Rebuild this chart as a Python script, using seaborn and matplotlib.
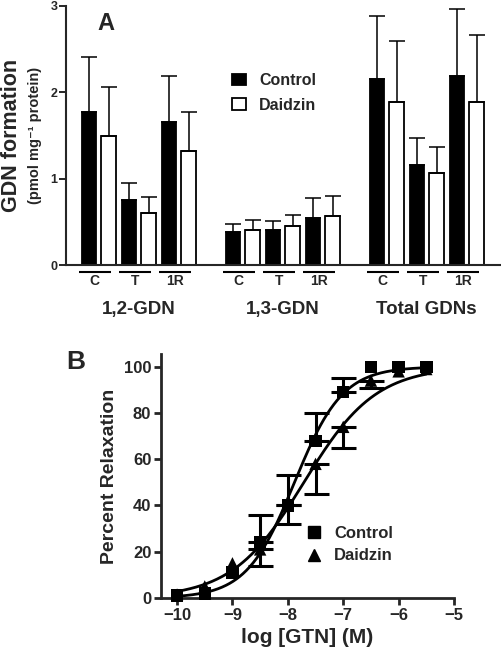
import numpy as np
import pandas as pd
import matplotlib
matplotlib.use("Agg")
import matplotlib.pyplot as plt
from matplotlib.patches import Patch
from matplotlib.lines import Line2D
import seaborn as sns

# ---- panel A data: GDN formation (pmol mg-1 protein), mean and SEM ----
groups = ["1,2-GDN", "1,3-GDN", "Total GDNs"]
tissues = ["C", "T", "1R"]
control_mean = [1.77, 0.75, 1.66, 0.38, 0.41, 0.54, 2.15, 1.16, 2.19]
control_sem = [0.64, 0.20, 0.53, 0.09, 0.10, 0.24, 0.73, 0.31, 0.77]
daidzin_mean = [1.49, 0.60, 1.32, 0.40, 0.45, 0.57, 1.89, 1.06, 1.89]
daidzin_sem = [0.57, 0.19, 0.45, 0.12, 0.13, 0.23, 0.71, 0.31, 0.77]

# ---- panel B data: percent relaxation vs log [GTN] ----
log_gtn = [-10, -9.5, -9, -8.5, -8, -7.5, -7, -6.5, -6, -5.5]
control_relax = [1, 2, 11, 24, 40, 68, 89, 100, 100, 100]
control_err_up = [0, 0, 0, 12, 13, 12, 6, 0, 0, 0]
daidzin_relax = [1.5, 5, 15, 21, 40, 58, 74, 94, 98, 99]
daidzin_err_down = [0, 0, 0, 7, 8, 13, 9, 3, 0, 0]
# fitted sigmoid parameters (logEC50, Hill slope)
control_fit = (-7.88, 1.0)
daidzin_fit = (-7.71, 0.67)

W, H = 502, 655
sns.set_theme(style="ticks")
plt.rcParams["font.family"] = ["Liberation Sans", "DejaVu Sans"]
plt.rcParams["font.weight"] = "bold"

fig = plt.figure(figsize=(W / 100, H / 100), dpi=100)


def fx(px):
    return px / W


def fy(py):
    return 1 - py / H


# ================= Panel A =================
axA = fig.add_axes([fx(66), fy(265), fx(500 - 66), (265 - 6) / H])
group_pitch = 3.6
pair_pos = [g * group_pitch + t for g in range(len(groups)) for t in range(len(tissues))]

df_a = pd.DataFrame({
    "pos": pair_pos * 2,
    "treatment": ["Control"] * 9 + ["Daidzin"] * 9,
    "value": control_mean + daidzin_mean,
})
bar_width = 0.98
sns.barplot(data=df_a, x="pos", y="value", hue="treatment", native_scale=True,
            palette={"Control": "black", "Daidzin": "white"}, saturation=1,
            width=bar_width, gap=0.27, errorbar=None, edgecolor="black",
            linewidth=1.3, legend=False, ax=axA)

off = bar_width / 4
for means, sems, sign in [(control_mean, control_sem, -1), (daidzin_mean, daidzin_sem, 1)]:
    xs = [p + sign * off for p in pair_pos]
    axA.errorbar(xs, means, yerr=[np.zeros(len(sems)), sems], fmt="none",
                 ecolor="black", elinewidth=1.1, capsize=5.5, capthick=1.1, zorder=1)

axA.set_xlim(-0.82, pair_pos[-1] + 0.83)
axA.set_ylim(0, 3)
axA.set_yticks([0, 1, 2, 3])
axA.set_xticks([])
axA.set_xlabel("")
axA.set_ylabel("")
axA.tick_params(axis="y", length=5, width=1.4, labelsize=9, pad=1)
for lab in axA.get_yticklabels():
    lab.set_fontweight("bold")
sns.despine(ax=axA)
for s in ["left", "bottom"]:
    axA.spines[s].set_linewidth(1.5)

# underlines and tissue labels
for i, p in enumerate(pair_pos):
    c = p - 0.1
    axA.plot([c - 0.4, c + 0.4], [-0.078, -0.078], color="black", lw=1.5,
             clip_on=False, solid_capstyle="butt")
    axA.text(c, -0.19, tissues[i % 3], ha="center", va="center",
             fontsize=10, fontweight="bold", clip_on=False)
for g, name in enumerate(groups):
    axA.text(g * group_pitch + 1, -0.51, name, ha="center", va="center",
             fontsize=13.5, fontweight="bold", clip_on=False)

fig.text(fx(12), fy(135), "GDN formation", rotation=90, ha="center", va="center",
         fontsize=15.5, fontweight="bold")
fig.text(fx(35), fy(135), "(pmol mg\u207b\u00b9 protein)", rotation=90, ha="center",
         va="center", fontsize=10.5, fontweight="bold")
fig.text(fx(106), fy(24), "A", ha="center", va="center", fontsize=17, fontweight="bold")

handles_a = [Patch(facecolor="black", edgecolor="black", lw=1.3, label="Control"),
             Patch(facecolor="white", edgecolor="black", lw=1.3, label="Daidzin")]
fig.legend(handles=handles_a, loc="upper left", bbox_to_anchor=(fx(232), fy(73)),
           frameon=False, handlelength=0.9, handleheight=0.75,
           handletextpad=0.8, labelspacing=0.6, borderpad=0, borderaxespad=0,
           prop={"weight": "bold", "size": 11.5})

# ================= Panel B =================
axB = fig.add_axes([fx(161), fy(598), fx(454 - 161), (598 - 354) / H])

xfit = np.linspace(log_gtn[0], log_gtn[-1], 300)
curves = []
for name, (ec50, hill) in [("Control", control_fit), ("Daidzin", daidzin_fit)]:
    curves.append(pd.DataFrame({"x": xfit, "y": 100 / (1 + 10 ** ((ec50 - xfit) * hill)),
                                "treatment": name}))
df_fit = pd.concat(curves)
sns.lineplot(data=df_fit, x="x", y="y", units="treatment", estimator=None,
             color="black", lw=2.0, ax=axB, legend=False)

df_b = pd.DataFrame({
    "x": log_gtn * 2,
    "y": control_relax + daidzin_relax,
    "treatment": ["Control"] * len(log_gtn) + ["Daidzin"] * len(log_gtn),
})
sns.scatterplot(data=df_b, x="x", y="y", style="treatment",
                markers={"Control": "s", "Daidzin": "^"}, color="black",
                s=80, linewidth=0, legend=False, ax=axB, clip_on=False, zorder=4)

cx = np.array(log_gtn)
cu = np.array(control_err_up)
m = cu > 0
axB.errorbar(cx[m], np.array(control_relax)[m], yerr=[np.zeros(m.sum()), cu[m]],
             fmt="none", ecolor="black", elinewidth=2.2, capsize=9, capthick=2.2)
dd = np.array(daidzin_err_down)
m = dd > 0
axB.errorbar(cx[m], np.array(daidzin_relax)[m], yerr=[dd[m], np.zeros(m.sum())],
             fmt="none", ecolor="black", elinewidth=2.2, capsize=9, capthick=2.2)

axB.set_xlim(-10.29, -5)
axB.set_ylim(0, 105.5)
axB.set_xticks([-10, -9, -8, -7, -6, -5])
axB.set_yticks([0, 20, 40, 60, 80, 100])
axB.tick_params(length=5, width=2, labelsize=12, pad=2)
for lab in axB.get_xticklabels() + axB.get_yticklabels():
    lab.set_fontweight("bold")
axB.set_xlabel("log [GTN] (M)", fontsize=15, fontweight="bold", labelpad=4)
axB.set_ylabel("Percent Relaxation", fontsize=14, fontweight="bold", labelpad=4)
sns.despine(ax=axB)
for s in ["left", "bottom"]:
    axB.spines[s].set_linewidth(2)

fig.text(fx(76), fy(362), "B", ha="center", va="center", fontsize=19, fontweight="bold")

handles_b = [Line2D([], [], marker="s", ls="none", color="black", markersize=8.5, label="Control"),
             Line2D([], [], marker="^", ls="none", color="black", markersize=9, label="Daidzin")]
fig.legend(handles=handles_b, loc="upper left", bbox_to_anchor=(fx(306), fy(526)),
           frameon=False, handlelength=1.0, handletextpad=0.7, labelspacing=0.45,
           borderpad=0, borderaxespad=0, prop={"weight": "bold", "size": 12})

fig.savefig("out.png", dpi=100)
